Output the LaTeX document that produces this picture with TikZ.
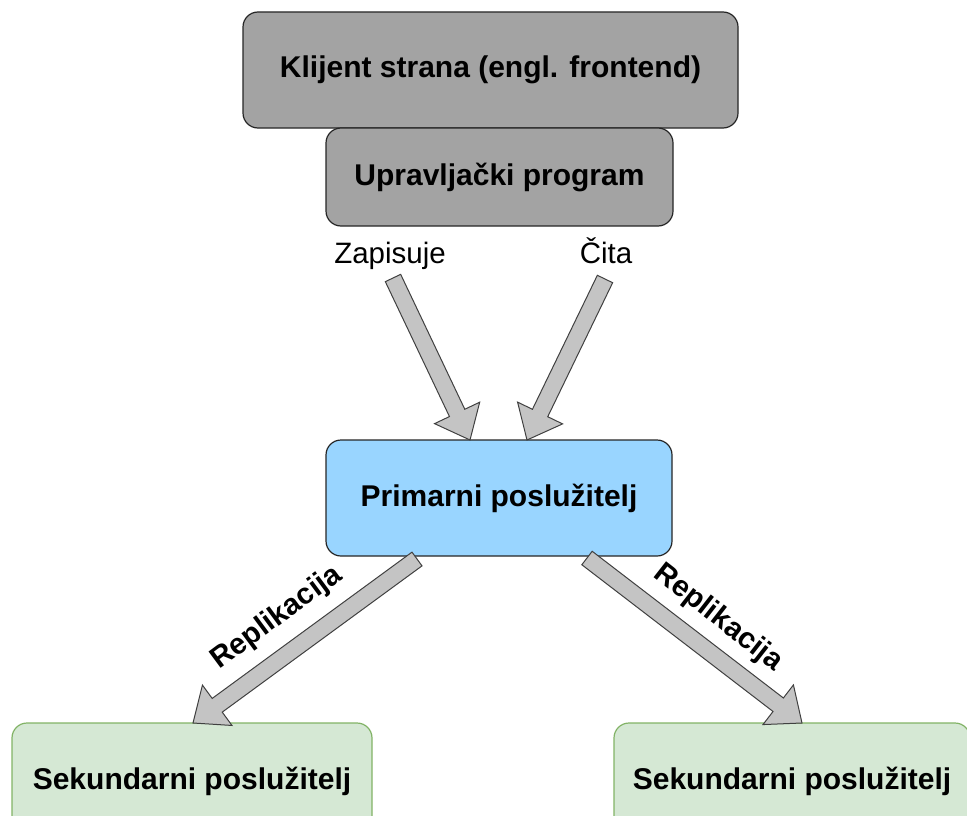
\documentclass[tikz,border=0pt]{standalone}
\usepackage{fontspec}
\setmainfont{Liberation Sans}
\usetikzlibrary{calc}
\definecolor{pGray}{HTML}{A3A3A3}
\definecolor{pArrow}{HTML}{C4C4C4}
\definecolor{pBlue}{HTML}{99D5FF}
\definecolor{pGreen}{HTML}{D5E8D4}
\definecolor{pGreenLine}{HTML}{82B366}
\tikzset{
    box/.style={rectangle, rounded corners=15pt, draw, line width=1.2pt, align=center,
        font=\fontsize{30}{34}\selectfont\bfseries},
    grayBox/.style={box, fill=pGray, draw=black!85},
    blueBox/.style={box, fill=pBlue, draw=black!85},
    greenBox/.style={box, fill=pGreen, draw=pGreenLine},
    lbl/.style={font=\fontsize{29.5}{34}\selectfont, anchor=base},
    replLbl/.style={font=\fontsize{29.5}{34}\selectfont\bfseries},
    fatArrow/.style={fill=pArrow, draw=black!75, line width=1pt, line join=miter}
}
% block arrow from #1 (tail) to #2 (tip)
\newcommand{\fatarrow}[2]{%
  \coordinate (hb) at ($(#2)!30pt!(#1)$);
  \filldraw[fatArrow] ($(#1)!8.5pt!90:(#2)$) -- ($(hb)!8.5pt!90:(#2)$)
     -- ($(hb)!25pt!90:(#2)$) -- (#2) -- ($(hb)!25pt!-90:(#2)$)
     -- ($(hb)!8.5pt!-90:(#2)$) -- ($(#1)!8.5pt!-90:(#2)$) -- cycle;
}

\begin{document}
\begin{tikzpicture}[x=1pt,y=-1pt]
\useasboundingbox (0,0) rectangle (967,816);
\clip (0,0) rectangle (967,816);
\node[grayBox, minimum width=495, minimum height=116] (client) at (490.5,70) {Klijent strana (engl. frontend)};
\node[grayBox, minimum width=347, minimum height=98] (driver) at (499.5,177) {Upravljački program};
\node[lbl] (write) at (390,263) {Zapisuje};
\node[lbl] (read) at (606,263) {Čita};
\node[blueBox, minimum width=346, minimum height=116] (primary) at (499,498) {Primarni poslužitelj};
\node[greenBox, minimum width=360, minimum height=116] (secLeft) at (192,781) {Sekundarni poslužitelj};
\node[greenBox, minimum width=356, minimum height=116] (secRight) at (792,781) {Sekundarni poslužitelj};
% arrow ends
\coordinate (wTail) at (393,278);
\coordinate (wTip) at (470,440);
\coordinate (rTail) at (605,279);
\coordinate (rTip) at (527,440);
\coordinate (lTail) at (417,559);
\coordinate (lTip) at (193,723);
\coordinate (sTail) at (587,558);
\coordinate (sTip) at (802,723);
\fatarrow{wTail}{wTip}
\fatarrow{rTail}{rTip}
\fatarrow{lTail}{lTip}
\fatarrow{sTail}{sTip}
\node[replLbl, rotate=36.5] (replLeft) at (277,618) {Replikacija};
\node[replLbl, rotate=-38] (replRight) at (718,618) {Replikacija};
\end{tikzpicture}
\end{document}
